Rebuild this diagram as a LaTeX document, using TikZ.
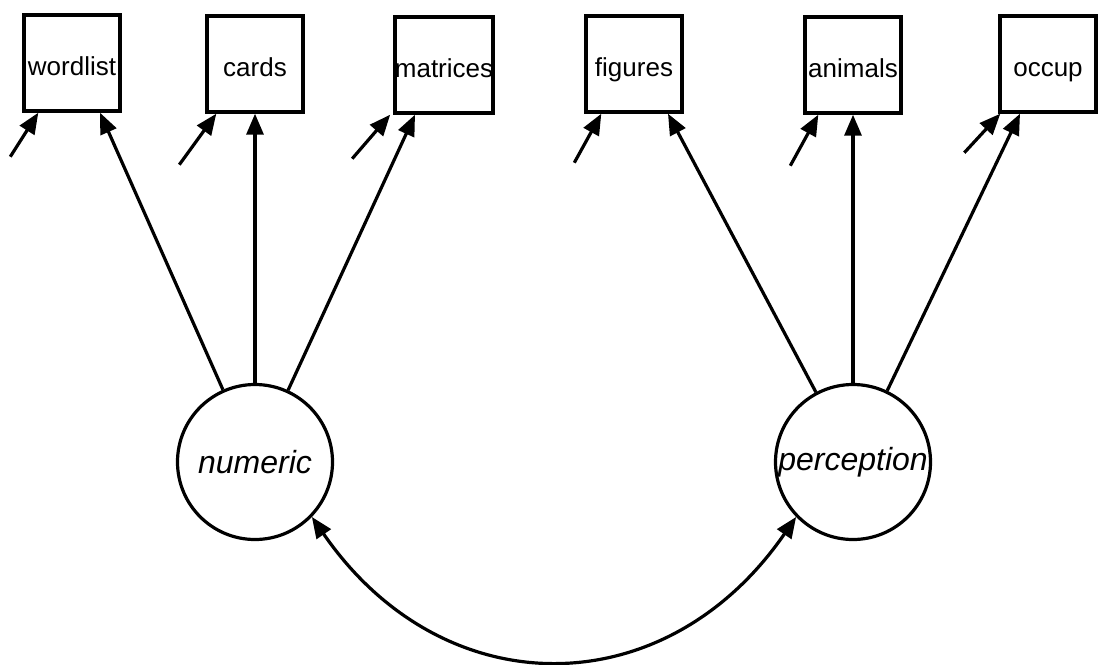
\documentclass[tikz,border=0pt]{standalone}
\usepackage{fontspec}
\setmainfont{Liberation Sans}
\usetikzlibrary{arrows.meta, positioning, calc}
\tikzset{
  obs/.style={rectangle, draw, line width=3.4pt, minimum width=96pt,
    minimum height=96pt, inner sep=0pt, text height=26pt,
    text depth=2pt, font=\fontsize{26}{30}\selectfont},
  lat/.style={circle, draw, line width=3.2pt, minimum size=155pt,
    inner sep=0pt, font=\fontsize{32}{36}\selectfont\itshape},
  arr/.style={-{Triangle[length=21pt,width=17pt]}, line width=3.2pt},
  covarr/.style={{Triangle[length=21pt,width=17pt]}-{Triangle[length=21pt,width=17pt]},
    line width=3.2pt},
}

\begin{document}
\begin{tikzpicture}[x=1pt, y=-1pt]
  \useasboundingbox (0,0) rectangle (1102,664);
  % observed variables
  \node[obs] (wordlist) at (72,63) {wordlist};
  \node[obs] (cards) at (255,64) {cards};
  \node[obs] (matrices) at (444,65) {matrices};
  \node[obs] (figures) at (634,64) {figures};
  \node[obs] (animals) at (853,65) {animals};
  \node[obs] (occup) at (1048,64) {occup};
  % latent factors
  \node[lat] (numeric) at (255,462) {numeric};
  \node[lat] (perception) at (853,462) {perception};
  % loadings
  \draw[arr] (numeric) -- ([xshift=28pt]wordlist.south);
  \draw[arr] (numeric) -- (cards.south);
  \draw[arr] (numeric) -- ([xshift=-29pt]matrices.south);
  \draw[arr] (perception) -- ([xshift=34pt]figures.south);
  \draw[arr] (perception) -- (animals.south);
  \draw[arr] (perception) -- ([xshift=-28pt]occup.south);
  % error terms
  \foreach \b/\hx/\tx/\ty in {wordlist/16/-12/44, cards/11/-26/51,
      matrices/-3/-41/44, figures/17/-10/49, animals/15/-13/51,
      occup/2/-34/39}{
    \coordinate (e\b) at ($(\b.south west)+(\tx,\ty)$);
    \draw[arr] (e\b) -- ([xshift=\hx pt]\b.south west);
  }
  % factor covariance
  \draw[covarr] (numeric.-44) .. controls +(131,190) and +(-131,190)
    .. (perception.-136);
\end{tikzpicture}
\end{document}
